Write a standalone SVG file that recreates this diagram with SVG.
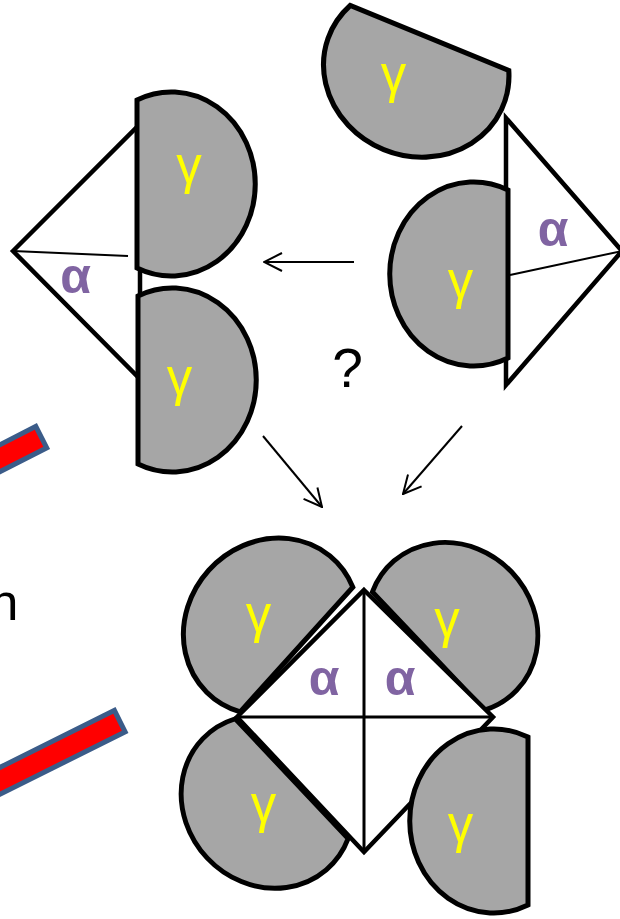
<svg xmlns="http://www.w3.org/2000/svg" width="620" height="919" viewBox="0 0 620 919">
<style>
.g{fill:#A6A6A6;stroke:#000;stroke-width:5;stroke-linejoin:miter}
.tri{fill:#fff;stroke:#000;stroke-width:4.5;stroke-linejoin:miter}
.thin{stroke:#000;stroke-width:2;fill:none}
.cross{stroke:#000;stroke-width:3;fill:none}
.gt{fill:#FFFF00;font-family:"Liberation Sans",Arial,sans-serif;font-size:51px;text-anchor:middle}
.at{fill:#8064A2;font-family:"Liberation Sans",Arial,sans-serif;font-weight:bold;font-size:50px;text-anchor:middle}
.bar{fill:#FF0000;stroke:#3B5C89;stroke-width:5}
.arrow{stroke:#000;stroke-width:2;fill:none;marker-end:url(#ah)}
.lbl{fill:#000;font-family:"Liberation Sans",Arial,sans-serif;font-size:52px}
</style>
<defs>
<path id="gam" d="M0,-84 A84,92 0 1 1 0,84 Z"/>
<marker id="ah" viewBox="0 0 20 20" refX="19" refY="10" markerWidth="10" markerHeight="10" markerUnits="strokeWidth" orient="auto">
<path d="M1,1 L19,10 L1,19" fill="none" stroke="#000" stroke-width="2"/>
</marker>
</defs>

<g id="bar-upper"><rect class="bar" x="-300" y="-12" width="297.5" height="24" transform="translate(43.5,436) rotate(-27)"/></g>
<g id="bar-lower"><rect class="bar" x="-300" y="-12" width="297.5" height="24" transform="translate(122,720) rotate(-26.5)"/></g>
<g id="label-n"><text class="lbl" x="-10.5" y="620">n</text></g>

<!-- top-left complex -->
<g id="tl-alpha">
<polygon class="tri" points="13,251 140,124 140,379"/>
<line class="thin" x1="13" y1="251" x2="128" y2="256"/>
<text class="at" x="75.5" y="293">α</text>
</g>
<g id="tl-gamma-upper"><use href="#gam" class="g" transform="translate(137,184)"/><text class="gt" x="189" y="182.5">γ</text></g>
<g id="tl-gamma-lower"><use href="#gam" class="g" transform="translate(138,380)"/><text class="gt" x="179.5" y="394.5">γ</text></g>

<!-- top-right complex -->
<g id="tr-alpha">
<polygon class="tri" points="506,118 622,251 506,385"/>
<line class="thin" x1="510" y1="275" x2="622" y2="251"/>
<text class="at" x="553" y="246">α</text>
</g>
<g id="tr-gamma-free"><use href="#gam" class="g" transform="translate(429.5,38) rotate(112.3) scale(1.02)"/><text class="gt" x="393.5" y="91.5">γ</text></g>
<g id="tr-gamma-bound"><use href="#gam" class="g" transform="translate(508,274) rotate(180)"/><text class="gt" x="460.5" y="297.5">γ</text></g>

<g id="question"><text class="lbl" x="347.5" y="387" text-anchor="middle" style="font-size:55px">?</text></g>

<!-- bottom complex -->
<g id="b-gamma-ul"><use href="#gam" class="g" transform="translate(296.5,649.5) rotate(222.1)"/><text class="gt" x="258.5" y="631.5">γ</text></g>
<g id="b-gamma-ur"><use href="#gam" class="g" transform="translate(428.5,651) rotate(-43.5) scale(0.97)"/><text class="gt" x="447" y="636.5">γ</text></g>
<g id="b-gamma-ll"><use href="#gam" class="g" transform="translate(291.7,778.7) rotate(136.75) scale(0.98)"/><text class="gt" x="263.5" y="821.5">γ</text></g>
<g id="b-alpha">
<polygon class="tri" points="364,590 493,717 364,852 237,717"/>
<line class="cross" x1="237" y1="717" x2="493" y2="717"/>
<line class="cross" x1="364" y1="590" x2="364" y2="852"/>
<text class="at" x="324" y="695">α</text>
<text class="at" x="400" y="695">α</text>
</g>
<g id="b-gamma-lr"><use href="#gam" class="g" transform="translate(528,821) rotate(180)"/><text class="gt" x="460.5" y="841.5">γ</text></g>

<g id="connectors">
<line class="arrow" x1="354" y1="262" x2="264" y2="262"/>
<line class="arrow" x1="263" y1="436" x2="322" y2="507"/>
<line class="arrow" x1="462" y1="426" x2="403" y2="494"/>
</g>
</svg>
